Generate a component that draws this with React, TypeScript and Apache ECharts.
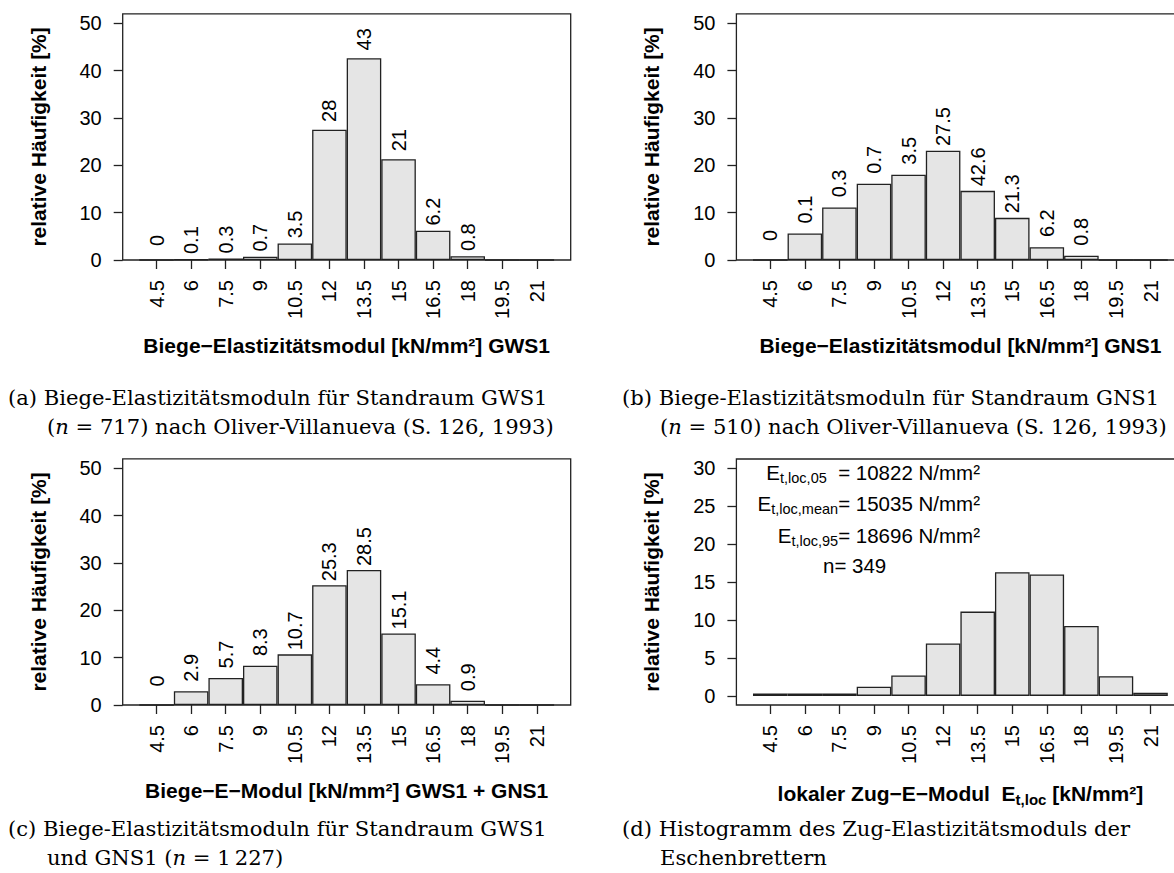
import React, { useEffect, useRef } from "react";
import * as echarts from "echarts";

// ---- data ----
const xTicks = [4.5, 6, 7.5, 9, 10.5, 12, 13.5, 15, 16.5, 18, 19.5, 21];

const gws1Values = [0, 0.1, 0.3, 0.7, 3.5, 27.5, 42.6, 21.3, 6.2, 0.8, 0, 0];
const gws1Labels = ["0", "0.1", "0.3", "0.7", "3.5", "28", "43", "21", "6.2", "0.8", "", ""];

const gns1Values = [0, 5.6, 11.1, 16.1, 18.0, 23.1, 14.6, 8.9, 2.7, 0.9, 0, 0];
const gns1Labels = ["0", "0.1", "0.3", "0.7", "3.5", "27.5", "42.6", "21.3", "6.2", "0.8", "", ""];

const combValues = [0, 2.9, 5.7, 8.3, 10.7, 25.3, 28.5, 15.1, 4.4, 0.9, 0, 0];
const combLabels = ["0", "2.9", "5.7", "8.3", "10.7", "25.3", "28.5", "15.1", "4.4", "0.9", "", ""];

const zugValues = [0.3, 0.3, 0.3, 1.2, 2.7, 6.9, 11.1, 16.3, 16.0, 9.2, 2.6, 0.4];

const yTicksBiege = [0, 10, 20, 30, 40, 50];
const yTicksZug = [0, 5, 10, 15, 20, 25, 30];

const statLines = [
  { sub: "t,loc,05", rest: "  = 10822 N/mm²" },
  { sub: "t,loc,mean", rest: "= 15035 N/mm²" },
  { sub: "t,loc,95", rest: "= 18696 N/mm²" },
];
const nText = "n= 349";

// ---- styles ----
const SANS = '"Liberation Sans", Arial, Helvetica, sans-serif';
const SERIF = '"DejaVu Serif", "Liberation Serif", serif';
const LINE = "#222";
const FS = 20;
const TFS = 21;
const CFS = 21.1;

type PanelCfg = {
  left: number;
  top: number;
  height: number;
  yMin: number;
  yMax: number;
  yTicks: number[];
  values: number[];
  labels: string[] | null;
  labelDist: number;
  xName: string;
  xRich?: any;
};

function buildOption() {
  const panels: PanelCfg[] = [
    { left: 122.7, top: 13.8, height: 246.2, yMin: 0, yMax: 52, yTicks: yTicksBiege, values: gws1Values, labels: gws1Labels, labelDist: 19, xName: "Biege−Elastizitätsmodul [kN/mm²] GWS1" },
    { left: 736.4, top: 13.8, height: 246.2, yMin: 0, yMax: 52, yTicks: yTicksBiege, values: gns1Values, labels: gns1Labels, labelDist: 24, xName: "Biege−Elastizitätsmodul [kN/mm²] GNS1" },
    { left: 122.7, top: 458.8, height: 246.2, yMin: 0, yMax: 52, yTicks: yTicksBiege, values: combValues, labels: combLabels, labelDist: 23.5, xName: "Biege−E−Modul [kN/mm²] GWS1 + GNS1" },
    {
      left: 736.4, top: 459, height: 246, yMin: -1.2, yMax: 31.2, yTicks: yTicksZug, values: zugValues, labels: null, labelDist: 0,
      xName: "{b|lokaler Zug−E−Modul  E}{s|t,loc}{b| [kN/mm²]}",
      xRich: {
        b: { fontFamily: SANS, fontWeight: "bold", fontSize: TFS, color: "#000", lineHeight: 27, verticalAlign: "middle" },
        s: { fontFamily: SANS, fontWeight: "bold", fontSize: 15, color: "#000", lineHeight: 15, verticalAlign: "bottom" },
      },
    },
  ];

  const grid: any[] = [];
  const xAxis: any[] = [];
  const yAxis: any[] = [];
  const series: any[] = [];

  panels.forEach((p, i) => {
    grid.push({
      left: p.left,
      top: p.top,
      width: 448,
      height: p.height,
      show: true,
      borderColor: LINE,
      borderWidth: 1.3,
      backgroundColor: "transparent",
      containLabel: false,
      outerBoundsMode: "none",
    });
    xAxis.push({
      gridIndex: i,
      type: "value",
      min: 3.03,
      max: 22.47,
      axisLine: { show: false, onZero: false },
      axisTick: { show: true, length: 9, customValues: xTicks, lineStyle: { color: LINE, width: 1.3 } },
      axisLabel: {
        customValues: xTicks,
        rotate: 90,
        margin: 20,
        fontSize: FS,
        fontFamily: SANS,
        color: "#000",
        formatter: (v: number) => String(v),
      },
      splitLine: { show: false },
      name: p.xName,
      nameLocation: "middle",
      nameGap: 75,
      nameTextStyle: {
        fontFamily: SANS,
        fontWeight: "bold",
        fontSize: TFS,
        color: "#000",
        ...(p.xRich ? { rich: p.xRich } : {}),
      },
    });
    yAxis.push({
      gridIndex: i,
      type: "value",
      min: p.yMin,
      max: p.yMax,
      axisLine: { show: false, onZero: false },
      axisTick: { show: true, length: 9, customValues: p.yTicks, lineStyle: { color: LINE, width: 1.3 } },
      axisLabel: { customValues: p.yTicks, margin: 21, fontSize: FS, fontFamily: SANS, color: "#000" },
      splitLine: { show: false },
      name: "relative Häufigkeit [%]",
      nameLocation: "middle",
      nameGap: 74,
      nameTextStyle: { fontFamily: SANS, fontWeight: "bold", fontSize: TFS, color: "#000" },
    });
    const labels = p.labels;
    series.push({
      type: "bar",
      xAxisIndex: i,
      yAxisIndex: i,
      data: xTicks.map((x, k) => [x, p.values[k]]),
      barWidth: "100%",
      silent: true,
      itemStyle: { color: "#e5e5e5", borderColor: LINE, borderWidth: 1.3 },
      label: labels
        ? {
            show: true,
            position: "top",
            distance: p.labelDist,
            rotate: 90,
            align: "center",
            verticalAlign: "middle",
            fontSize: FS,
            fontFamily: SANS,
            color: "#000",
            formatter: (q: any) => labels[q.dataIndex],
          }
        : { show: false },
    });
  });

  const capRich = {
    r: { fontFamily: SERIF, fontSize: CFS, color: "#000" },
    i: { fontFamily: SERIF, fontSize: CFS, color: "#000", fontStyle: "italic" },
  };
  const cap = (x: number, y: number, text: string, rich = false) => ({
    type: "text",
    x,
    y,
    silent: true,
    style: {
      text,
      fontFamily: SERIF,
      fontSize: CFS,
      fill: "#000",
      align: "left",
      verticalAlign: "middle",
      ...(rich ? { rich: capRich } : {}),
    },
  });

  const graphic: any[] = [
    cap(8, 397, "(a) Biege-Elastizitätsmoduln für Standraum GWS1"),
    cap(47, 426, "{r|(}{i|n}{r| = 717) nach Oliver-Villanueva (S. 126, 1993)}", true),
    cap(622, 397, "(b) Biege-Elastizitätsmoduln für Standraum GNS1"),
    cap(660, 426, "{r|(}{i|n}{r| = 510) nach Oliver-Villanueva (S. 126, 1993)}", true),
    cap(8, 828, "(c) Biege-Elastizitätsmoduln für Standraum GWS1"),
    cap(47, 857, "{r|und GNS1 (}{i|n}{r| = 1\u2009227)}", true),
    cap(622, 828, "(d) Histogramm des Zug-Elastizitätsmoduls der"),
    cap(660, 857, "Eschenbrettern"),
  ];

  const statRich = {
    m: { fontFamily: SANS, fontSize: 20.5, color: "#000", lineHeight: 26, verticalAlign: "middle" },
    s: { fontFamily: SANS, fontSize: 14.5, color: "#000", lineHeight: 14, verticalAlign: "bottom" },
  };
  const statY = [472, 503, 535];
  statLines.forEach((l, k) => {
    graphic.push({
      type: "text",
      x: 980,
      y: statY[k],
      silent: true,
      style: {
        text: `{m|E}{s|${l.sub}}{m|${l.rest}}`,
        align: "right",
        verticalAlign: "middle",
        rich: statRich,
      },
    });
  });
  graphic.push({
    type: "text",
    x: 823,
    y: 565,
    silent: true,
    style: { text: nText, fontFamily: SANS, fontSize: 20.5, fill: "#000", align: "left", verticalAlign: "middle" },
  });

  return {
    animation: false,
    backgroundColor: "#fff",
    grid,
    xAxis,
    yAxis,
    series,
    graphic,
  };
}

export default function App() {
  const ref = useRef<HTMLDivElement>(null);
  useEffect(() => {
    if (!ref.current) return;
    const chart = echarts.init(ref.current, null, { renderer: "svg" });
    chart.setOption(buildOption() as any);
    return () => chart.dispose();
  }, []);
  return (
    <div
      ref={ref}
      style={{ position: "absolute", left: 0, top: 0, width: 1174, height: 873, background: "#fff" }}
    />
  );
}
